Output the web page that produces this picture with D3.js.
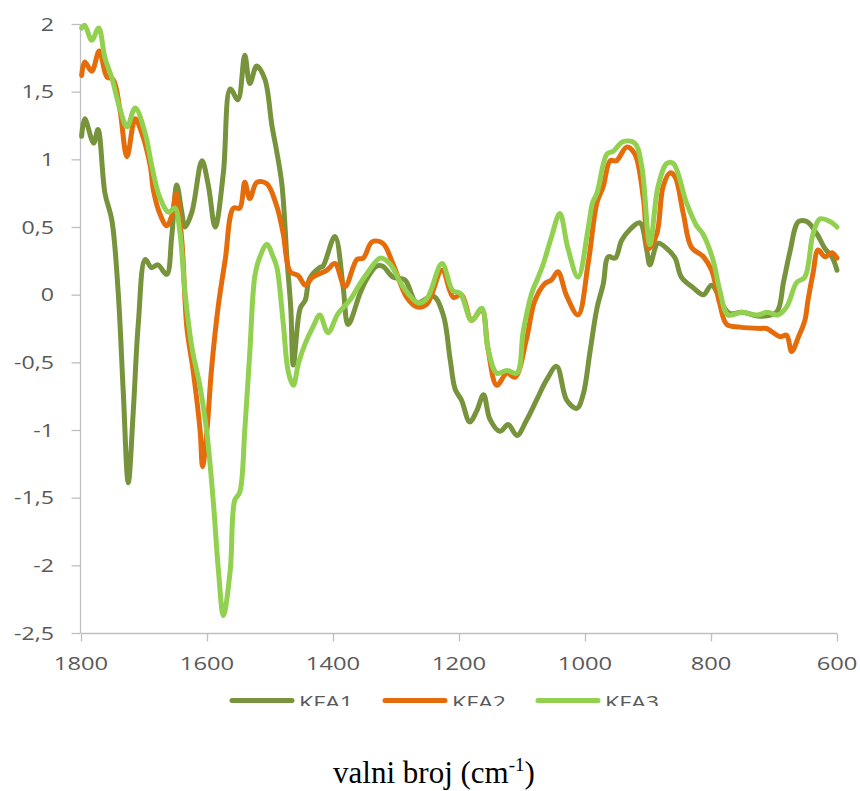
<!DOCTYPE html>
<html><head><meta charset="utf-8">
<script src="https://cdn.jsdelivr.net/npm/d3@7"></script>
<style>html,body{margin:0;padding:0;background:#fff;}svg{display:block;}</style>
</head><body>
<svg id="chart" width="860" height="791"></svg>
<script>
const seriesNames = ["KFA1", "KFA2", "KFA3"];
const seriesColors = ["#77933C", "#E46C0A", "#92D050"];
const xTicks = [1800, 1600, 1400, 1200, 1000, 800, 600];
const yTicks = [2, 1.5, 1, 0.5, 0, -0.5, -1, -1.5, -2, -2.5];

const kfa1 = [
[1799,1.17],[1794,1.30],[1780,1.12],[1773,1.22],[1762,0.75],[1751,0.55],[1741,0.02],[1733,-0.71],[1725,-1.39],[1717,-0.86],
[1709,-0.21],[1698,0.26],[1688,0.20],[1678,0.22],[1664,0.15],[1656,0.43],[1648,0.81],[1640,0.61],[1635,0.50],[1624,0.61],
[1608,0.99],[1598,0.81],[1587,0.50],[1574,0.90],[1563,1.52],[1551,1.44],[1540,1.77],[1532,1.56],[1521,1.69],[1508,1.59],
[1497,1.25],[1489,1.05],[1481,0.81],[1473,0.26],[1467,-0.10],[1463,-0.52],[1452,-0.10],[1444,-0.04],[1437,0.12],[1421,0.20],
[1416,0.21],[1397,0.43],[1384,0.06],[1376,-0.22],[1357,0.01],[1347,0.11],[1331,0.21],[1321,0.21],[1305,0.13],[1286,0.11],
[1267,-0.06],[1241,-0.01],[1225,-0.15],[1214,-0.48],[1206,-0.70],[1196,-0.78],[1183,-0.94],[1172,-0.86],[1161,-0.74],[1151,-0.92],
[1135,-1.01],[1122,-0.96],[1108,-1.04],[1093,-0.93],[1077,-0.78],[1061,-0.63],[1045,-0.53],[1029,-0.78],[1013,-0.84],[1003,-0.74],
[992,-0.42],[981,-0.10],[971,0.08],[963,0.28],[952,0.27],[942,0.40],[929,0.48],[913,0.53],[902,0.33],[897,0.22],
[884,0.38],[870,0.34],[857,0.27],[847,0.13],[828,0.05],[812,0.00],[799,0.07],[780,-0.09],[770,-0.14],[751,-0.13],
[722,-0.16],[696,-0.13],[685,0.09],[675,0.31],[661,0.54],[648,0.54],[632,0.45],[619,0.34],[608,0.28],[600,0.18]
];
const kfa2 = [
[1799,1.62],[1794,1.72],[1783,1.65],[1771,1.80],[1759,1.61],[1749,1.59],[1738,1.36],[1727,1.02],[1714,1.30],[1704,1.20],
[1690,0.95],[1685,0.77],[1675,0.60],[1664,0.51],[1656,0.58],[1649,0.75],[1640,0.40],[1632,-0.24],[1622,-0.56],[1611,-1.00],
[1607,-1.27],[1600,-1.00],[1593,-0.56],[1582,-0.08],[1571,0.26],[1558,0.64],[1548,0.64],[1540,0.83],[1532,0.71],[1521,0.83],
[1505,0.82],[1489,0.65],[1479,0.45],[1468,0.17],[1455,0.14],[1444,0.07],[1432,0.13],[1410,0.18],[1397,0.23],[1381,0.06],
[1362,0.26],[1352,0.27],[1338,0.39],[1321,0.38],[1305,0.23],[1283,-0.02],[1267,-0.09],[1251,-0.07],[1227,0.18],[1209,-0.02],
[1196,0.00],[1180,-0.19],[1164,-0.11],[1154,-0.40],[1140,-0.67],[1124,-0.58],[1111,-0.61],[1093,-0.33],[1080,-0.05],[1064,0.08],
[1053,0.11],[1043,0.17],[1029,-0.01],[1011,-0.15],[995,0.23],[981,0.68],[971,0.80],[960,0.99],[950,0.99],[934,1.09],
[921,1.04],[907,0.70],[899,0.34],[886,0.45],[876,0.80],[865,0.90],[857,0.87],[844,0.60],[831,0.35],[812,0.28],
[799,0.18],[786,-0.07],[775,-0.22],[754,-0.24],[722,-0.25],[712,-0.25],[690,-0.31],[680,-0.30],[672,-0.42],[661,-0.31],
[651,-0.19],[646,-0.04],[638,0.16],[630,0.33],[619,0.28],[608,0.31],[600,0.27]
];
const kfa3 = [
[1799,1.97],[1794,1.99],[1783,1.88],[1772,1.97],[1762,1.75],[1751,1.60],[1738,1.37],[1727,1.24],[1714,1.38],[1698,1.19],
[1688,0.96],[1675,0.72],[1661,0.61],[1651,0.64],[1643,0.46],[1635,0.02],[1624,-0.39],[1611,-0.68],[1600,-1.03],[1590,-1.53],
[1582,-2.03],[1574,-2.37],[1563,-2.03],[1556,-1.52],[1548,-1.46],[1540,-1.00],[1532,-0.42],[1524,0.14],[1516,0.28],[1505,0.37],
[1495,0.28],[1489,0.20],[1479,-0.21],[1471,-0.57],[1463,-0.67],[1455,-0.51],[1444,-0.36],[1431,-0.23],[1421,-0.15],[1408,-0.28],
[1392,-0.14],[1373,-0.04],[1360,0.06],[1347,0.15],[1325,0.27],[1310,0.23],[1289,0.06],[1265,-0.06],[1251,-0.03],[1227,0.23],
[1210,0.03],[1198,0.01],[1180,-0.19],[1164,-0.10],[1154,-0.40],[1140,-0.58],[1124,-0.56],[1108,-0.58],[1098,-0.27],[1084,0.02],
[1076,0.11],[1066,0.23],[1053,0.43],[1040,0.60],[1027,0.34],[1011,0.13],[995,0.49],[988,0.68],[981,0.75],[965,1.04],
[955,1.06],[940,1.13],[921,1.12],[910,0.95],[897,0.37],[884,0.80],[870,0.97],[860,0.97],[839,0.68],[823,0.51],
[813,0.45],[797,0.26],[786,0.03],[773,-0.15],[751,-0.13],[727,-0.15],[710,-0.13],[694,-0.15],[680,-0.09],[664,0.09],
[651,0.13],[638,0.45],[627,0.56],[611,0.54],[600,0.50]
];
const seriesData = [kfa1, kfa2, kfa3];

const svg = d3.select("#chart");
const x = d3.scaleLinear().domain([1800, 600]).range([81, 837]);
const y = d3.scaleLinear().domain([-2.5, 2]).range([633, 24]);
const axisColor = "#BFBFBF";
const textColor = "#595959";
const fmt = v => String(v).replace(".", ",");

// y axis
const yAxis = svg.append("g").attr("transform", "translate(80.5,0)")
  .call(d3.axisLeft(y).tickValues(yTicks).tickSize(9).tickFormat(""));
yAxis.select(".domain").attr("stroke", axisColor).attr("stroke-width", 1.3).attr("d", "M0," + y(2) + "V" + y(-2.5));
yAxis.selectAll(".tick line").attr("stroke", axisColor).attr("stroke-width", 1.3);
svg.append("g").selectAll("text").data(yTicks).join("text")
  .attr("transform", d => `translate(54,${y(d) + 6.5}) scale(1.25,1)`)
  .attr("text-anchor", "end")
  .attr("font-family", "Open Sans, sans-serif").attr("font-size", 18.5)
  .attr("fill", textColor).text(fmt);

// x axis
const xAxis = svg.append("g").attr("transform", "translate(0,633.5)")
  .call(d3.axisBottom(x).tickValues(xTicks).tickSize(8).tickFormat(""));
xAxis.select(".domain").attr("stroke", axisColor).attr("stroke-width", 1.3).attr("d", "M" + x(1800) + ",0H" + x(600));
xAxis.selectAll(".tick line").attr("stroke", axisColor).attr("stroke-width", 1.3);
svg.append("g").selectAll("text").data(xTicks).join("text")
  .attr("transform", d => `translate(${x(d)},670) scale(1.25,1)`)
  .attr("text-anchor", "middle")
  .attr("font-family", "Open Sans, sans-serif").attr("font-size", 19)
  .attr("fill", textColor).text(d => d);

// lines
const line = d3.line().x(d => x(d[0])).y(d => y(d[1])).curve(d3.curveCatmullRom.alpha(0.5));
svg.append("g").selectAll("path").data(seriesData).join("path")
  .attr("d", line).attr("fill", "none")
  .attr("stroke", (d, i) => seriesColors[i])
  .attr("stroke-width", 5).attr("stroke-linejoin", "round").attr("stroke-linecap", "round");

// legend (clipped at bottom like the reference)
svg.append("defs").append("clipPath").attr("id", "legclip")
  .append("rect").attr("x", 0).attr("y", 680).attr("width", 860).attr("height", 26);
const leg = svg.append("g").attr("clip-path", "url(#legclip)");
const legX = [230, 383, 536];
seriesNames.forEach((name, i) => {
  leg.append("line").attr("x1", legX[i] + 2).attr("x2", legX[i] + 62)
    .attr("y1", 700.5).attr("y2", 700.5)
    .attr("stroke", seriesColors[i]).attr("stroke-width", 5).attr("stroke-linecap", "round");
  leg.append("text").attr("transform", `translate(${legX[i] + 69},709) scale(1.22,1)`)
    .attr("font-family", "Open Sans, sans-serif").attr("font-size", 19)
    .attr("fill", textColor).text(name);
});

// axis title
const title = svg.append("text").attr("x", 434).attr("y", 783)
  .attr("text-anchor", "middle").attr("font-family", "Liberation Serif, Times New Roman, serif")
  .attr("font-size", 31).attr("fill", "#000");
title.append("tspan").text("valni broj (cm");
title.append("tspan").attr("font-size", 19).attr("dy", -12).text("-1");
title.append("tspan").attr("dy", 12).text(")");
</script>
</body></html>
